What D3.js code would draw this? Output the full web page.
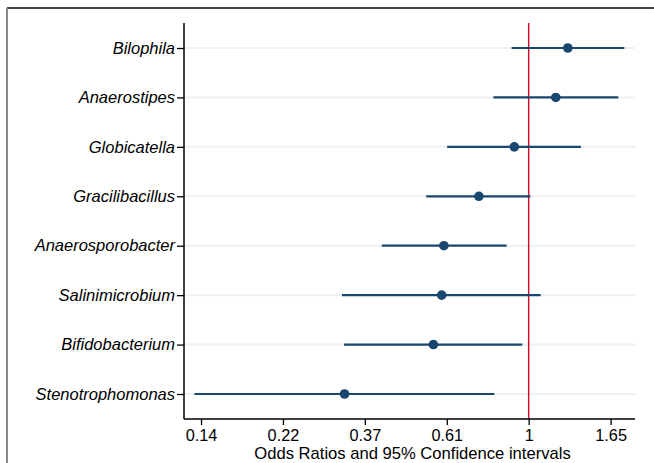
<!DOCTYPE html>
<html>
<head>
<meta charset="utf-8">
<script src="https://cdn.jsdelivr.net/npm/d3@7"></script>
<style>
  body { margin: 0; background: #fff; }
  svg { display: block; font-family: "Liberation Sans", Arial, Helvetica, sans-serif; }
</style>
</head>
<body>
<script>
// genera, top to bottom
var taxa = ["Bilophila", "Anaerostipes", "Globicatella", "Gracilibacillus",
    "Anaerosporobacter", "Salinimicrobium", "Bifidobacterium", "Stenotrophomonas"];
// odds ratios and 95% CI bounds
var oddsRatio = [1.27, 1.18, 0.916, 0.738, 0.596, 0.588, 0.559, 0.325];
var ciLow = [0.901, 0.806, 0.608, 0.535, 0.408, 0.320, 0.324, 0.130];
var ciHigh = [1.793, 1.728, 1.376, 1.01, 0.874, 1.076, 0.962, 0.811];
// x tick values on the log scale and their labels
var tickValues = [Math.exp(-2), Math.exp(-1.5), Math.exp(-1), Math.exp(-0.5), 1, Math.exp(0.5)];
var tickLabels = ["0.14", "0.22", "0.37", "0.61", "1", "1.65"];

var W = 654, H = 463;
var margin = { top: 23, right: 19, bottom: 44, left: 184 };
var width = W - margin.left - margin.right,
    height = H - margin.top - margin.bottom;

var data = taxa.map(function (t, i) {
    return { name: t, or: oddsRatio[i], lo: ciLow[i], hi: ciHigh[i] };
});

var svg = d3.select("body").append("svg")
    .attr("width", W)
    .attr("height", H);

// outer frame (top and left edges only show)
svg.append("line").attr("x1", 7).attr("x2", W).attr("y1", 8).attr("y2", 8)
    .attr("stroke", "#444").attr("stroke-width", 2);
svg.append("line").attr("x1", 7).attr("x2", 7).attr("y1", 8).attr("y2", H)
    .attr("stroke", "#888").attr("stroke-width", 2);

var g = svg.append("g")
    .attr("transform", "translate(" + margin.left + "," + margin.top + ")");

var x = d3.scaleLog()
    .domain([Math.exp(-2.104), Math.exp(0.649)])
    .range([0, width]);

var y = d3.scalePoint()
    .domain(taxa)
    .range([25, 371]);

// light grid lines
g.selectAll(".grid")
    .data(taxa)
    .enter().append("line")
    .attr("x1", 0).attr("x2", width)
    .attr("y1", function (d) { return y(d); })
    .attr("y2", function (d) { return y(d); })
    .attr("stroke", "#eaf2f3")
    .attr("stroke-width", 2);

// reference line at OR = 1
g.append("line")
    .attr("x1", x(1)).attr("x2", x(1))
    .attr("y1", 0).attr("y2", height)
    .attr("stroke", "#d0102e")
    .attr("stroke-width", 1.5);

// confidence intervals
g.selectAll(".ci")
    .data(data)
    .enter().append("line")
    .attr("x1", function (d) { return x(d.lo); })
    .attr("x2", function (d) { return x(d.hi); })
    .attr("y1", function (d) { return y(d.name); })
    .attr("y2", function (d) { return y(d.name); })
    .attr("stroke", "#1a476f")
    .attr("stroke-width", 2.2);

// point estimates
g.selectAll(".pt")
    .data(data)
    .enter().append("circle")
    .attr("cx", function (d) { return x(d.or); })
    .attr("cy", function (d) { return y(d.name); })
    .attr("r", 4.8)
    .attr("fill", "#1a476f");

// Y axis
var yAxis = g.append("g")
    .call(d3.axisLeft(y).tickSize(7).tickPadding(2));
yAxis.select(".domain").attr("d", "M0,0V" + height).attr("stroke", "#000").attr("stroke-width", 1.5);
yAxis.selectAll(".tick line").attr("stroke", "#000").attr("stroke-width", 1.3);
yAxis.selectAll(".tick text")
    .attr("font-size", 16.5)
    .attr("font-style", "italic")
    .attr("fill", "#000");

// X axis
var xAxis = g.append("g")
    .attr("transform", "translate(0," + height + ")")
    .call(d3.axisBottom(x)
        .tickValues(tickValues)
        .tickFormat(function (d, i) { return tickLabels[i]; })
        .tickSize(6)
        .tickPadding(4));
xAxis.select(".domain").attr("d", "M0,0H" + width).attr("stroke", "#000").attr("stroke-width", 1.5);
xAxis.selectAll(".tick line").attr("stroke", "#000").attr("stroke-width", 1.3);
xAxis.selectAll(".tick text")
    .attr("font-size", 16.3)
    .attr("fill", "#000");

// X axis title
g.append("text")
    .attr("x", width / 2 + 3)
    .attr("y", height + 40)
    .attr("text-anchor", "middle")
    .attr("font-size", 16.6)
    .attr("fill", "#000")
    .text("Odds Ratios and 95% Confidence intervals");
</script>
</body>
</html>
